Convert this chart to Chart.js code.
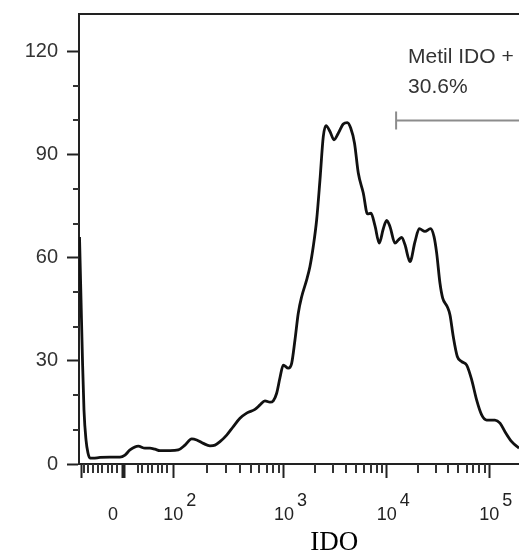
<!DOCTYPE html>
<html>
<head>
<meta charset="utf-8">
<script src="https://cdn.jsdelivr.net/npm/chart.js@4.4.1/dist/chart.umd.min.js"></script>
<style>
  html, body { margin: 0; padding: 0; background: #fff; overflow: hidden; }
  #histogram { display: block; }
</style>
</head>
<body>
<canvas id="histogram" width="519" height="553"></canvas>
<script>
// display channel (0-1024, biexponential axis) and cell count
const channels = [1.2, 4.7, 8.1, 11.6, 16.3, 20.9, 25.6, 32.6, 48.9, 72.1, 95.4, 107, 118.7, 138, 153.6, 165.2, 176.8, 188.5, 211.8, 231.1,
  246.7, 262.3, 273.9, 289.2, 304.8, 316.5, 328.1, 343.7, 359.1, 374.6, 390.2, 409.5, 421.2, 432.8, 444.4, 452.1, 460, 467.7, 475.4, 487,
  494.9, 502.6, 510.3, 518.2, 529.8, 537.5, 545.2, 553.1, 560.8, 568.5, 574.8, 584.1, 593.4, 603.4, 615, 624.4, 632.3, 641.2, 650, 661.6,
  671.4, 679.5, 688.9, 698.8, 708.2, 716.1, 723.8, 735.4, 743.1, 751, 758.7, 770.3, 781.9, 791.9, 805.2, 818, 826.2, 832.4, 840.1, 846.4,
  857.1, 863.4, 871, 880.4, 890.6, 902.3, 913.9, 925.5, 937.1, 948.8, 968.1, 979.8, 991.4, 1007, 1024];
const counts = [66.1, 47.8, 30.3, 15.7, 7.0, 3.2, 1.7, 1.7, 1.9, 2.0, 2.0, 2.6, 4.1, 5.2, 4.6, 4.6, 4.3, 3.9, 3.9, 4.1,
  5.5, 7.3, 7.0, 6.0, 5.3, 5.5, 6.5, 8.4, 10.9, 13.3, 14.8, 15.9, 17.2, 18.4, 18.0, 18.4, 20.6, 25.1, 28.8, 27.9,
  29.3, 36.1, 43.9, 48.7, 53.6, 57.5, 63.3, 71.1, 82.7, 95.3, 98.5, 96.8, 94.4, 96.3, 99.0, 99.4, 97.8, 93.4, 84.7, 78.9,
  72.8, 73.0, 69.3, 64.3, 68.5, 70.9, 69.1, 64.3, 65.2, 66.0, 63.8, 58.9, 64.7, 68.5, 67.7, 68.5, 66.2, 61.4, 52.6, 48.3,
  45.8, 43.4, 37.1, 31.3, 29.8, 28.8, 24.5, 18.6, 14.3, 12.8, 12.8, 11.9, 9.4, 6.5, 4.6];

// x axis: decades 10^2..10^5, zero and the linear region ticks
const decadeChannels = [219.4, 477, 716, 955];
const decadeExponents = ['2', '3', '4', '5'];
const zeroChannel = 104.7;
const zeroLabelChannel = 79;
const edgeChannel = 4.7;
const lowMinorChannels = [12.3, 21.6, 33.3, 43.5, 54.2, 66.8, 76.1, 87.7, 136.6, 146, 160, 170.6, 183, 192.5, 204.8];

const yMajorTicks = [0, 30, 60, 90, 120];
const yMinorTicks = [10, 20, 40, 50, 70, 80, 100, 110];

// gate
const gateStart = 738;
const gateEnd = 1024;
const gateLevel = 100;
const gateName = 'Metil IDO +';
const gatePercent = '30.6%';
const axisTitle = 'IDO';

const sans = '"Liberation Sans", Arial, sans-serif';

// log-spaced minor ticks between the decades
const minorX = lowMinorChannels.slice();
for (let i = 0; i < decadeChannels.length - 1; i++) {
  const span = decadeChannels[i + 1] - decadeChannels[i];
  for (let k = 2; k <= 9; k++) minorX.push(decadeChannels[i] + Math.log10(k) * span);
}

function noPadding(scale) {
  scale.paddingTop = 0;
  scale.paddingBottom = 0;
  scale.paddingLeft = 0;
  scale.paddingRight = 0;
}

const axisDecor = {
  id: 'axisDecor',
  afterDraw(chart) {
    const { ctx, chartArea: a, scales: { x, y } } = chart;
    ctx.save();
    ctx.strokeStyle = '#222';
    ctx.lineWidth = 2;
    ctx.beginPath();
    ctx.moveTo(a.left - 1, a.top);
    ctx.lineTo(a.right, a.top);
    ctx.stroke();

    ctx.strokeStyle = '#333';
    ctx.beginPath();
    minorX.forEach(v => {
      const px = Math.round(x.getPixelForValue(v));
      ctx.moveTo(px, a.bottom);
      ctx.lineTo(px, a.bottom + 9);
    });
    yMinorTicks.forEach(v => {
      const py = Math.round(y.getPixelForValue(v));
      ctx.moveTo(a.left, py);
      ctx.lineTo(a.left - 6, py);
    });
    ctx.stroke();

    // x tick labels with raised exponents
    ctx.fillStyle = '#222';
    ctx.textBaseline = 'alphabetic';
    const base = a.bottom + 56;
    ctx.font = '18px ' + sans;
    ctx.textAlign = 'center';
    ctx.fillText('0', x.getPixelForValue(zeroLabelChannel), base);
    decadeChannels.forEach((v, i) => {
      const px = x.getPixelForValue(v);
      ctx.font = '18px ' + sans;
      ctx.textAlign = 'center';
      ctx.fillText('10', px, base);
      const w = ctx.measureText('10').width;
      ctx.font = '18px ' + sans;
      ctx.textAlign = 'left';
      ctx.fillText(decadeExponents[i], px + w / 2 + 3, base - 14);
    });

    // gate label
    const gx = x.getPixelForValue(gateStart);
    const gy = y.getPixelForValue(gateLevel);
    ctx.font = '21px ' + sans;
    ctx.fillStyle = '#333';
    ctx.textAlign = 'left';
    ctx.fillText(gateName, gx + 12, gy - 57);
    ctx.fillText(gatePercent, gx + 12, gy - 27);

    // axis title
    ctx.font = '27px "Liberation Serif", "Times New Roman", serif';
    ctx.fillStyle = '#000';
    ctx.textAlign = 'center';
    ctx.fillText(axisTitle, a.left + (a.right - a.left) * 0.58, chart.height - 3);
    ctx.restore();
  }
};

new Chart(document.getElementById('histogram'), {
  type: 'line',
  data: {
    datasets: [{
      data: channels.map((c, i) => ({ x: c, y: counts[i] })),
      borderColor: '#111',
      borderWidth: 2.8,
      pointRadius: 0,
      cubicInterpolationMode: 'monotone',
      fill: false,
    }, {
      data: [{ x: gateStart, y: gateLevel }, { x: gateEnd, y: gateLevel }],
      borderColor: '#8c8c8c',
      borderWidth: 2,
      pointStyle: 'line',
      rotation: 90,
      pointRadius: [9, 0],
      pointBorderColor: '#8c8c8c',
      pointBorderWidth: 2,
    }]
  },
  options: {
    responsive: false,
    animation: false,
    layout: { autoPadding: false, padding: { top: 14, left: 0, right: 0, bottom: 0 } },
    plugins: {
      legend: { display: false },
      tooltip: { enabled: false },
    },
    scales: {
      x: {
        type: 'linear',
        min: 0,
        max: 1024,
        afterBuildTicks: scale => {
          scale.ticks = [edgeChannel, zeroChannel, ...decadeChannels].map(v => ({ value: v }));
        },
        afterFit: scale => { scale.height = 89; noPadding(scale); },
        ticks: { display: false, autoSkip: false },
        grid: {
          drawOnChartArea: false,
          tickLength: 14,
          tickColor: '#222',
          tickWidth: c => (c.tick && c.tick.value === zeroChannel ? 4 : 2),
        },
        border: { color: '#222', width: 2 },
      },
      y: {
        min: 0,
        max: 131,
        afterBuildTicks: scale => {
          scale.ticks = yMajorTicks.map(v => ({ value: v }));
        },
        afterFit: scale => { scale.width = 79; noPadding(scale); },
        ticks: {
          autoSkip: false,
          padding: 9,
          color: '#333',
          font: { family: sans, size: 20 },
        },
        grid: {
          drawOnChartArea: false,
          tickLength: 12,
          tickColor: '#222',
          tickWidth: 2,
        },
        border: { color: '#222', width: 2 },
      }
    }
  },
  plugins: [axisDecor]
});
</script>
</body>
</html>
